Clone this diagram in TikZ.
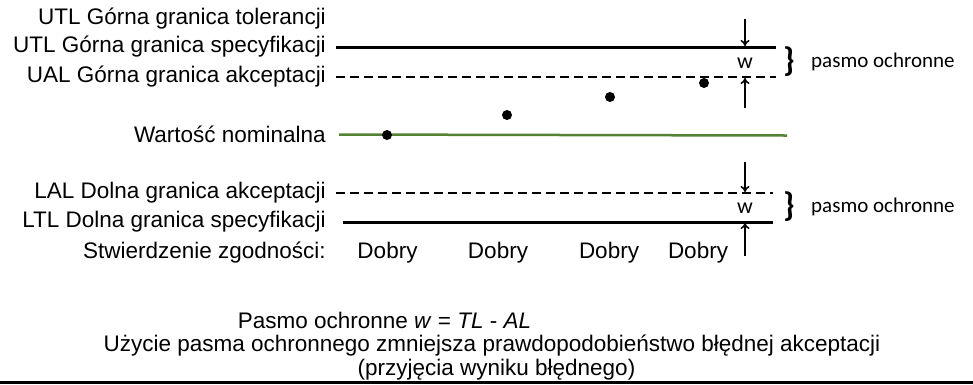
\documentclass[tikz,border=0pt]{standalone}
\usepackage{fontspec}
\setmainfont{Liberation Sans}
\newfontfamily\calfont{Carlito}
\usetikzlibrary{arrows.meta}
\begin{document}
\begin{tikzpicture}[x=1pt,y=-1pt,
  lbl/.style={anchor=east,inner sep=0pt,font=\fontsize{22.5}{26}\selectfont},
  txt/.style={inner sep=0pt,font=\fontsize{22.5}{26}\selectfont},
  caltxt/.style={inner sep=0pt,font=\calfont\fontsize{21}{24}\selectfont},
  wtxt/.style={inner sep=0pt,font=\calfont\fontsize{22}{24}\selectfont},
  limsolid/.style={line width=3pt},
  limdash/.style={line width=2pt,dash pattern=on 9pt off 5pt},
  nomline/.style={line width=2.5pt,draw=nomgreen},
  pt/.style={circle,fill=black,inner sep=0pt,minimum size=10pt},
  arr/.style={line width=1.6pt,-{To[length=6pt,width=9pt]}},
  brace/.style={inner sep=0pt,font=\calfont\bfseries\fontsize{34}{34}\selectfont}
]
\definecolor{nomgreen}{RGB}{84,130,53}
\useasboundingbox (0,0) rectangle (973,384);
% labels
\node[lbl] (tol) at (326,19) {UTL Górna granica tolerancji};
\node[lbl] (utl) at (326,47) {UTL Górna granica specyfikacji};
\node[lbl] (ual) at (326,77) {UAL Górna granica akceptacji};
\node[lbl] (nom) at (326,134) {Wartość nominalna};
\node[lbl] (lal) at (326,193) {LAL Dolna granica akceptacji};
\node[lbl] (ltl) at (326,222) {LTL Dolna granica specyfikacji};
\node[lbl] (stw) at (326,253) {Stwierdzenie zgodności:};
% lines
\coordinate (utlA) at (336,47); \coordinate (utlB) at (776,47);
\coordinate (ualA) at (336,77); \coordinate (ualB) at (776,77);
\coordinate (nomA) at (339,134.5); \coordinate (nomB) at (787,135.5);
\coordinate (lalA) at (336,193); \coordinate (lalB) at (773,193);
\coordinate (ltlA) at (343,222); \coordinate (ltlB) at (773,222);
\draw[limsolid] (utlA) -- (utlB);
\draw[limdash] (ualA) -- (ualB);
\draw[nomline] (nomA) -- (nomB);
\draw[limdash] (lalA) -- (lalB);
\draw[limsolid] (ltlA) -- (ltlB);
% points
\node[pt] (p1) at (387,135) {};
\node[pt] (p2) at (507,115) {};
\node[pt] (p3) at (610,97) {};
\node[pt] (p4) at (704,83) {};
% verdicts
\node[txt] (d1) at (387.5,253) {Dobry};
\node[txt] (d2) at (498,253) {Dobry};
\node[txt] (d3) at (609,253) {Dobry};
\node[txt] (d4) at (698,253) {Dobry};
% upper guard band
\coordinate (ua1) at (745,19); \coordinate (ua1t) at (745,46);
\coordinate (ua2) at (745,108); \coordinate (ua2t) at (745,78);
\draw[arr] (ua1) -- (ua1t);
\draw[arr] (ua2) -- (ua2t);
\node[wtxt] (uw) at (745,63) {w};
\node[brace] (ubr) at (789,62) {\}};
\node[caltxt,anchor=west] (upas) at (811,62) {pasmo ochronne};
% lower guard band
\coordinate (la1) at (745,162); \coordinate (la1t) at (745,192);
\coordinate (la2) at (745,256); \coordinate (la2t) at (745,223);
\draw[arr] (la1) -- (la1t);
\draw[arr] (la2) -- (la2t);
\node[wtxt] (lw) at (745,208) {w};
\node[brace] (lbr) at (789,207) {\}};
\node[caltxt,anchor=west] (lpas) at (811,207) {pasmo ochronne};
% bottom text
\node[txt] (f1) at (384.5,320) {Pasmo ochronne \textit{w} = \textit{TL} - \textit{AL}};
\node[txt] (f2) at (492,346) {Użycie pasma ochronnego zmniejsza prawdopodobieństwo błędnej akceptacji};
\node[txt] (f3) at (496.5,370) {(przyjęcia wyniku błędnego)};
% bottom edge
\coordinate (bl) at (0,382.5); \coordinate (br) at (973,382.5);
\draw[line width=3pt] (bl) -- (br);
\end{tikzpicture}
\end{document}
